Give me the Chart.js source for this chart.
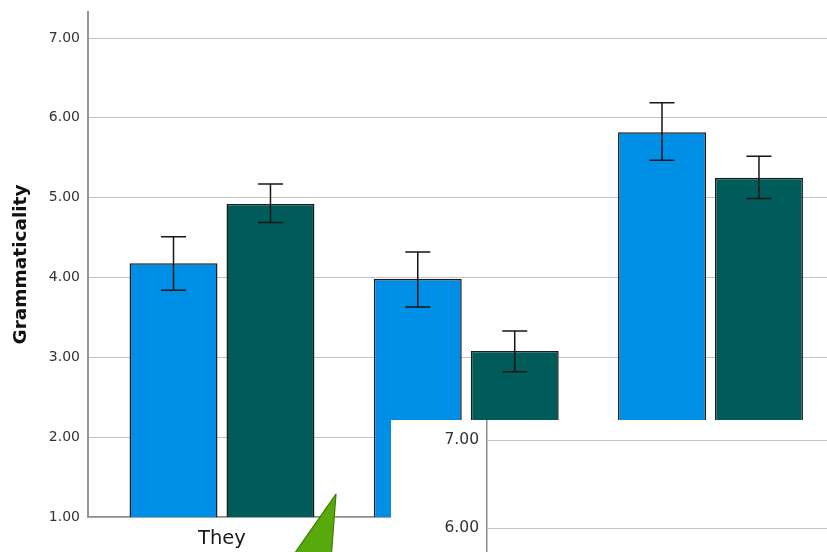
<!DOCTYPE html>
<html>
<head>
<meta charset="utf-8">
<script src="https://cdn.jsdelivr.net/npm/chart.js@4.4.1/dist/chart.umd.min.js"></script>
<style>
  html, body { margin: 0; padding: 0; background: #fff; overflow: hidden; }
  #wrap { position: relative; width: 827px; height: 552px; }
  #main { position: absolute; left: 0; top: 0; }
  #inset { position: absolute; left: 391px; top: 420px; width: 436px; height: 132px; background: #fff; overflow: hidden; }
  #zoomed { position: absolute; left: 0; top: -20px; }
  #arrow { position: absolute; left: 0; top: 0; pointer-events: none; }
</style>
</head>
<body>
<div id="wrap">
  <canvas id="main" width="827" height="552"></canvas>
  <svg id="arrow" width="827" height="552">
    <polygon points="336,494 290,560 331,560" fill="#58a90c" stroke="#3b7d00" stroke-width="1.2" stroke-linejoin="round"/>
  </svg>
  <div id="inset"><canvas id="zoomed" width="436" height="216"></canvas></div>
</div>
<script>
// categories (only the first label is visible, the rest sit under the inset)
var categories = ["They", "He", "She"];
var seriesNames = ["Group 1", "Group 2"];
var seriesColors = ["#008fe6", "#005c5a"];

var blueMeans = [4.18, 3.98, 5.82];
var blueLow   = [3.84, 3.63, 5.47];
var blueHigh  = [4.51, 4.32, 6.19];

var greenMeans = [4.92, 3.08, 5.25];
var greenLow   = [4.69, 2.82, 4.99];
var greenHigh  = [5.17, 3.33, 5.52];

var yTicks = [1, 2, 3, 4, 5, 6, 7];
var insetTicks = [6, 7];

var fontFamily = "'DejaVu Sans', sans-serif";

function toPoints(vals) {
  return vals.map(function (v, i) { return { x: i + 1, y: v }; });
}

function noPadding(scale) {
  scale.paddingTop = 0;
  scale.paddingBottom = 0;
  scale.paddingLeft = 0;
  scale.paddingRight = 0;
}

var errorBars = {
  id: "errorBars",
  afterDatasetsDraw: function (chart) {
    var ctx = chart.ctx;
    var y = chart.scales.y;
    var ranges = [[blueLow, blueHigh], [greenLow, greenHigh]];
    ctx.save();
    ctx.strokeStyle = "#161616";
    ctx.lineWidth = 1.5;
    chart.data.datasets.forEach(function (ds, d) {
      var meta = chart.getDatasetMeta(d);
      meta.data.forEach(function (bar, i) {
        var lo = y.getPixelForValue(ranges[d][0][i]);
        var hi = y.getPixelForValue(ranges[d][1][i]);
        ctx.beginPath();
        ctx.moveTo(bar.x, lo); ctx.lineTo(bar.x, hi);
        ctx.moveTo(bar.x - 12.5, lo); ctx.lineTo(bar.x + 12.5, lo);
        ctx.moveTo(bar.x - 12.5, hi); ctx.lineTo(bar.x + 12.5, hi);
        ctx.stroke();
      });
    });
    ctx.restore();
  }
};

new Chart(document.getElementById("main"), {
  type: "bar",
  data: {
    datasets: [
      { label: seriesNames[0], data: toPoints(blueMeans), backgroundColor: seriesColors[0], borderColor: "#1a1a1a", borderWidth: 1.5, borderSkipped: false },
      { label: seriesNames[1], data: toPoints(greenMeans), backgroundColor: seriesColors[1], borderColor: "#1a1a1a", borderWidth: 1.5, borderSkipped: false }
    ]
  },
  options: {
    responsive: false,
    animation: false,
    devicePixelRatio: 1,
    categoryPercentage: 0.794,
    barPercentage: 0.907,
    layout: { padding: { top: 12, left: 0, right: 0, bottom: 0 } },
    plugins: { legend: { display: false }, tooltip: { enabled: false } },
    scales: {
      x: {
        type: "linear",
        offset: false,
        min: 0.4514,
        max: 3.477,
        grid: { display: false, offset: false },
        border: { display: true, color: "#8c8c8c", width: 1.5 },
        afterBuildTicks: function (scale) {
          scale.ticks = categories.map(function (c, i) { return { value: i + 1 }; });
        },
        afterFit: function (scale) { scale.height = 35; noPadding(scale); },
        ticks: {
          padding: 2,
          autoSkip: false,
          maxRotation: 0,
          color: "#1a1a1a",
          font: { family: fontFamily, size: 19.5 },
          callback: function (v) { return categories[v - 1]; }
        }
      },
      y: {
        min: 1,
        max: 7.326,
        grid: { color: "#c2c2c2", lineWidth: 1, drawTicks: false },
        border: { display: true, color: "#959595", width: 2 },
        afterBuildTicks: function (scale) {
          scale.ticks = yTicks.map(function (v) { return { value: v }; });
        },
        afterFit: function (scale) { scale.width = 88; noPadding(scale); },
        ticks: {
          padding: 8,
          color: "#333",
          font: { family: fontFamily, size: 14 },
          callback: function (v) { return v.toFixed(2); }
        },
        title: {
          display: true,
          text: "Grammaticality",
          color: "#111",
          padding: { top: 10, bottom: 0 },
          font: { family: fontFamily, size: 18.5, weight: "bold" }
        }
      }
    }
  },
  plugins: [errorBars]
});

// zoomed-in inset pasted over the lower right corner
new Chart(document.getElementById("zoomed"), {
  type: "bar",
  data: { datasets: [] },
  options: {
    responsive: false,
    animation: false,
    devicePixelRatio: 1,
    layout: { padding: 0 },
    plugins: { legend: { display: false }, tooltip: { enabled: false } },
    scales: {
      x: { type: "linear", display: false, min: 0, max: 1 },
      y: {
        min: 5,
        max: 7.456,
        grid: { color: "#c2c2c2", lineWidth: 1, drawTicks: false },
        border: { display: true, color: "#8c8c8c", width: 1.5 },
        afterBuildTicks: function (scale) {
          scale.ticks = insetTicks.map(function (v) { return { value: v }; });
        },
        afterFit: function (scale) { scale.width = 96; noPadding(scale); },
        ticks: {
          padding: 8,
          color: "#333",
          font: { family: fontFamily, size: 15.5 },
          callback: function (v) { return v.toFixed(2); }
        }
      }
    }
  }
});
</script>
</body>
</html>
